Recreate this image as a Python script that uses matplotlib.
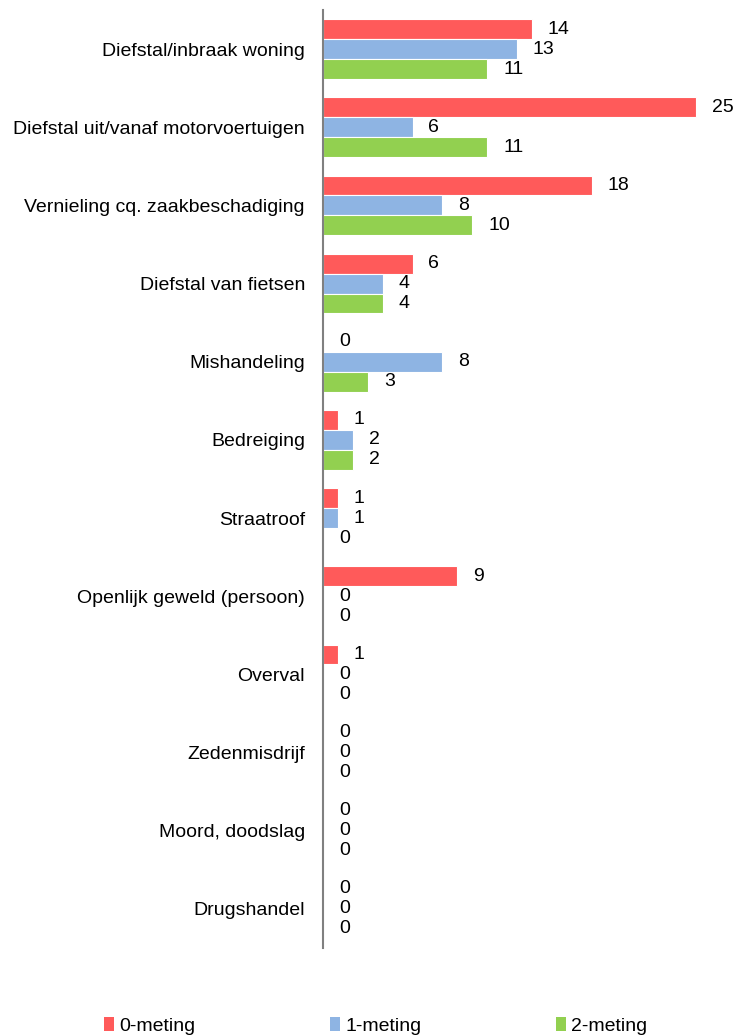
import numpy as np
import matplotlib.pyplot as plt
from matplotlib.patches import Patch

plt.rcParams['font.family'] = ['Liberation Sans', 'DejaVu Sans']

categories = [
    "Diefstal/inbraak woning",
    "Diefstal uit/vanaf motorvoertuigen",
    "Vernieling cq. zaakbeschadiging",
    "Diefstal van fietsen",
    "Mishandeling",
    "Bedreiging",
    "Straatroof",
    "Openlijk geweld (persoon)",
    "Overval",
    "Zedenmisdrijf",
    "Moord, doodslag",
    "Drugshandel",
]
meting0 = [14, 25, 18, 6, 0, 1, 1, 9, 1, 0, 0, 0]
meting1 = [13, 6, 8, 4, 8, 2, 1, 0, 0, 0, 0, 0]
meting2 = [11, 11, 10, 4, 3, 2, 0, 0, 0, 0, 0, 0]
series_names = ["0-meting", "1-meting", "2-meting"]
colors = ["#FF5A5A", "#8EB4E3", "#92D050"]

FS = 14
W, H = 737, 1035
fig = plt.figure(figsize=(W / 100, H / 100), dpi=100)
ax = fig.add_axes([323 / W, 1 - 948 / H, (733 - 323) / W, (948 - 10) / H])

n = len(categories)
y = np.arange(n)
bh = 0.255
offsets = [-bh, 0, bh]
for vals, off, c in zip([meting0, meting1, meting2], offsets, colors):
    ax.barh(y + off, vals, height=bh, color=c, edgecolor="white", linewidth=0.8)
    for yi, v in zip(y, vals):
        ax.annotate(str(v), (v, yi + off), xytext=(11.5, 0), textcoords="offset points",
                    va="center", ha="left", fontsize=FS, color="#000000")

ax.set_xlim(0, 410 / 14.92)
ax.set_ylim(n - 0.5, -0.5)
ax.set_yticks(y)
ax.set_yticklabels(categories, fontsize=FS)
ax.tick_params(axis="y", length=0, pad=13)
ax.set_xticks([])
for s in ["top", "right", "bottom"]:
    ax.spines[s].set_visible(False)
ax.spines["left"].set_color("#808080")
ax.spines["left"].set_linewidth(1.5)

handles = [Patch(facecolor=c, edgecolor="none") for c in colors]
fig.legend(handles, series_names, loc="lower center", bbox_to_anchor=(0.51, -0.017),
           ncol=3, frameon=False, fontsize=FS, handlelength=0.5, handleheight=0.7,
           handletextpad=0.3, columnspacing=6.9)

fig.savefig("out.png", dpi=100)
